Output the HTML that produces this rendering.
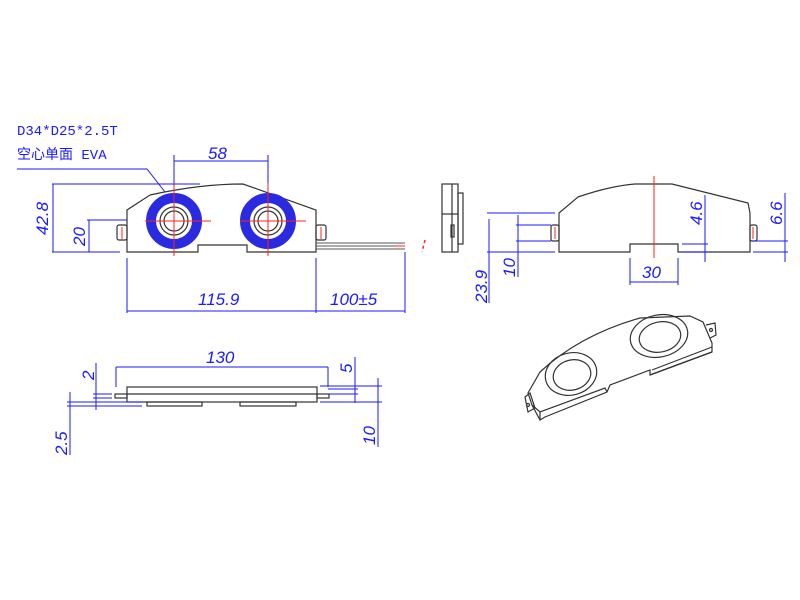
<!DOCTYPE html>
<html><head><meta charset="utf-8"><style>
html,body{margin:0;padding:0;background:#fff;}
svg{display:block;}
.b{stroke:#1a1aff;stroke-width:1;fill:none;}
.k{stroke:#333;stroke-width:1.2;fill:none;}
.r{stroke:#ff2020;stroke-width:1;fill:none;}
.t{font-family:"Liberation Sans",sans-serif;font-style:italic;font-size:17px;fill:#1a1aff;}
</style></head><body>
<svg width="800" height="600" viewBox="0 0 800 600" xmlns="http://www.w3.org/2000/svg">
<!-- labels -->
<text x="17" y="135" font-family="Liberation Mono,monospace" font-size="14" fill="#1a1aff">D34*D25*2.5T</text>
<text x="17" y="159" font-family="Liberation Mono,'Noto Sans CJK SC',monospace" font-size="14" fill="#1a1aff">空心单面 EVA</text>
<polyline class="b" points="17,169 147,169 165,192"/>

<!-- front view -->
<path class="k" d="M127,252 V210 L150,195 Q200,184 243,184 L316,210 V252 H247 V245 H198 V252 Z"/>
<rect class="k" x="117" y="225" width="10" height="15" rx="2"/>
<rect class="k" x="316" y="225" width="10" height="15" rx="2"/>
<line class="r" x1="122" y1="227" x2="122" y2="239"/><line class="r" x1="321" y1="227" x2="321" y2="239"/>
<circle cx="174" cy="221" r="23" fill="none" stroke="#2a2ae0" stroke-width="10"/>
<circle cx="268" cy="221" r="23" fill="none" stroke="#2a2ae0" stroke-width="10"/>
<circle class="k" cx="174" cy="221" r="14"/><circle class="k" cx="174" cy="221" r="10"/>
<circle class="k" cx="268" cy="221" r="14"/><circle class="k" cx="268" cy="221" r="10"/>
<line class="r" x1="174" y1="183" x2="174" y2="256"/><line class="r" x1="145" y1="221" x2="211" y2="221"/>
<line class="r" x1="268" y1="183" x2="268" y2="256"/><line class="r" x1="240" y1="221" x2="306" y2="221"/>
<!-- wire -->
<g stroke="#555" stroke-width="1"><line x1="316" y1="243" x2="405" y2="243"/><line x1="316" y1="246" x2="405" y2="246"/><line x1="316" y1="249" x2="405" y2="249"/></g>
<line class="r" x1="395" y1="246" x2="405" y2="246"/>
<line x1="425" y1="240" x2="422" y2="252" stroke="#ff2020" stroke-width="1.5" stroke-dasharray="3,3"/>
<!-- dims front -->
<polyline class="b" points="174,183 174,155"/><polyline class="b" points="268,183 268,155"/><line class="b" x1="174" y1="161" x2="268" y2="161"/>
<text class="t" x="208" y="159">58</text>
<line class="b" x1="52" y1="184" x2="200" y2="184"/><line class="b" x1="52" y1="252" x2="120" y2="252"/><line class="b" x1="53" y1="184" x2="53" y2="252"/>
<text class="t" transform="translate(48,235) rotate(-90)">42.8</text>
<line class="b" x1="87" y1="220" x2="127" y2="220"/><line class="b" x1="89" y1="220" x2="89" y2="252"/>
<text class="t" transform="translate(85,246) rotate(-90)">20</text>
<line class="b" x1="127" y1="258" x2="127" y2="313"/><line class="b" x1="316" y1="258" x2="316" y2="313"/><line class="b" x1="405" y1="252" x2="405" y2="313"/>
<line class="b" x1="127" y1="311" x2="405" y2="311"/>
<text class="t" x="198" y="305">115.9</text>
<text class="t" x="330" y="305">100±5</text>

<!-- side view -->
<rect class="k" x="442" y="184" width="16" height="68"/>
<line class="k" x1="452" y1="184" x2="452" y2="252"/><line class="k" x1="442" y1="214" x2="458" y2="214"/>
<rect class="k" x="458" y="193" width="5" height="51"/><rect class="k" x="451" y="225" width="3" height="12"/>

<!-- right view -->
<path class="k" d="M559,252 V213 L578,197 Q610,186 635,184 H672 L748,203 L750,213 V252 H678 V244 H630 V252 Z"/>
<rect class="k" x="551" y="225" width="8" height="16" rx="2"/>
<rect class="k" x="750" y="225" width="7" height="16" rx="2"/>
<line class="r" x1="555" y1="227" x2="555" y2="239"/><line class="r" x1="753" y1="227" x2="753" y2="239"/>
<line class="r" x1="654" y1="176" x2="654" y2="258"/>
<line class="b" x1="487" y1="213" x2="555" y2="213"/><line class="b" x1="487" y1="252" x2="555" y2="252"/><line class="b" x1="489" y1="219" x2="489" y2="303"/>
<text class="t" transform="translate(487,303) rotate(-90)">23.9</text>
<line class="b" x1="516" y1="225" x2="551" y2="225"/><line class="b" x1="516" y1="241" x2="551" y2="241"/><line class="b" x1="518" y1="215" x2="518" y2="277"/>
<text class="t" transform="translate(515,277) rotate(-90)">10</text>
<line class="b" x1="682" y1="244" x2="708" y2="244"/><line class="b" x1="682" y1="252" x2="708" y2="252"/><line class="b" x1="705" y1="195" x2="705" y2="262"/>
<text class="t" transform="translate(702,225) rotate(-90)">4.6</text>
<line class="b" x1="753" y1="241" x2="788" y2="241"/><line class="b" x1="753" y1="252" x2="788" y2="252"/><line class="b" x1="785" y1="193" x2="785" y2="262"/>
<text class="t" transform="translate(782,225) rotate(-90)">6.6</text>
<line class="b" x1="630" y1="258" x2="630" y2="285"/><line class="b" x1="678" y1="258" x2="678" y2="285"/><line class="b" x1="630" y1="282" x2="678" y2="282"/>
<text class="t" x="642" y="278">30</text>

<!-- top view -->
<rect class="k" x="127" y="387" width="190" height="15"/>
<line class="k" x1="127" y1="394" x2="317" y2="394"/>
<rect class="k" x="115" y="394" width="12" height="4"/><rect class="k" x="317" y="394" width="12" height="4"/>
<rect class="k" x="147" y="402" width="55" height="4"/><rect class="k" x="240" y="402" width="56" height="4"/>
<line class="b" x1="116" y1="367" x2="328" y2="367"/><line class="b" x1="116" y1="367" x2="116" y2="387"/><line class="b" x1="328" y1="367" x2="328" y2="387"/>
<text class="t" x="206" y="363">130</text>
<line class="b" x1="93" y1="394" x2="112" y2="394"/><line class="b" x1="93" y1="398" x2="112" y2="398"/><line class="b" x1="96" y1="363" x2="96" y2="410"/>
<text class="t" transform="translate(94,380) rotate(-90)">2</text>
<line class="b" x1="67" y1="402" x2="142" y2="402"/><line class="b" x1="67" y1="406" x2="142" y2="406"/><line class="b" x1="70" y1="392" x2="70" y2="455"/>
<text class="t" transform="translate(67,455) rotate(-90)">2.5</text>
<line class="b" x1="328" y1="389" x2="358" y2="389"/><line class="b" x1="328" y1="394" x2="358" y2="394"/><line class="b" x1="355" y1="357" x2="355" y2="403"/>
<text class="t" transform="translate(352,373) rotate(-90)">5</text>
<line class="b" x1="320" y1="386" x2="382" y2="386"/><line class="b" x1="320" y1="402" x2="382" y2="402"/><line class="b" x1="378" y1="378" x2="378" y2="447"/>
<text class="t" transform="translate(375,445) rotate(-90)">10</text>

<!-- isometric -->
<g class="k" stroke-width="1">
<path d="M528,393 L540,372 Q580,335 640,318 L690,316 L703,322 L712,343 L712,352 L650,375 L650,370 L610,385 L607,392 L545,417 L540,420 L532,405 Z"/>
<path d="M532,405 L540,412 L605,388 L607,392"/>
<path d="M540,412 L540,420"/>
<path d="M650,375 L712,352"/>
<path d="M652,370 L712,347"/>
<path d="M525,397 L530,393 L535,408 L528,412 Z"/><circle cx="528" cy="405" r="1.5"/>
<path d="M706,325 L715,323 L716,335 L710,338"/><circle cx="711" cy="330" r="1.5"/>
<ellipse cx="571" cy="374" rx="26" ry="21" transform="rotate(-15 571 374)"/>
<ellipse cx="572" cy="375" rx="19" ry="15" transform="rotate(-15 572 375)"/>
<ellipse cx="659" cy="336" rx="29" ry="21" transform="rotate(-12 659 336)"/>
<ellipse cx="660" cy="337" rx="21" ry="15" transform="rotate(-12 660 337)"/>
</g>
</svg>
</body></html>
